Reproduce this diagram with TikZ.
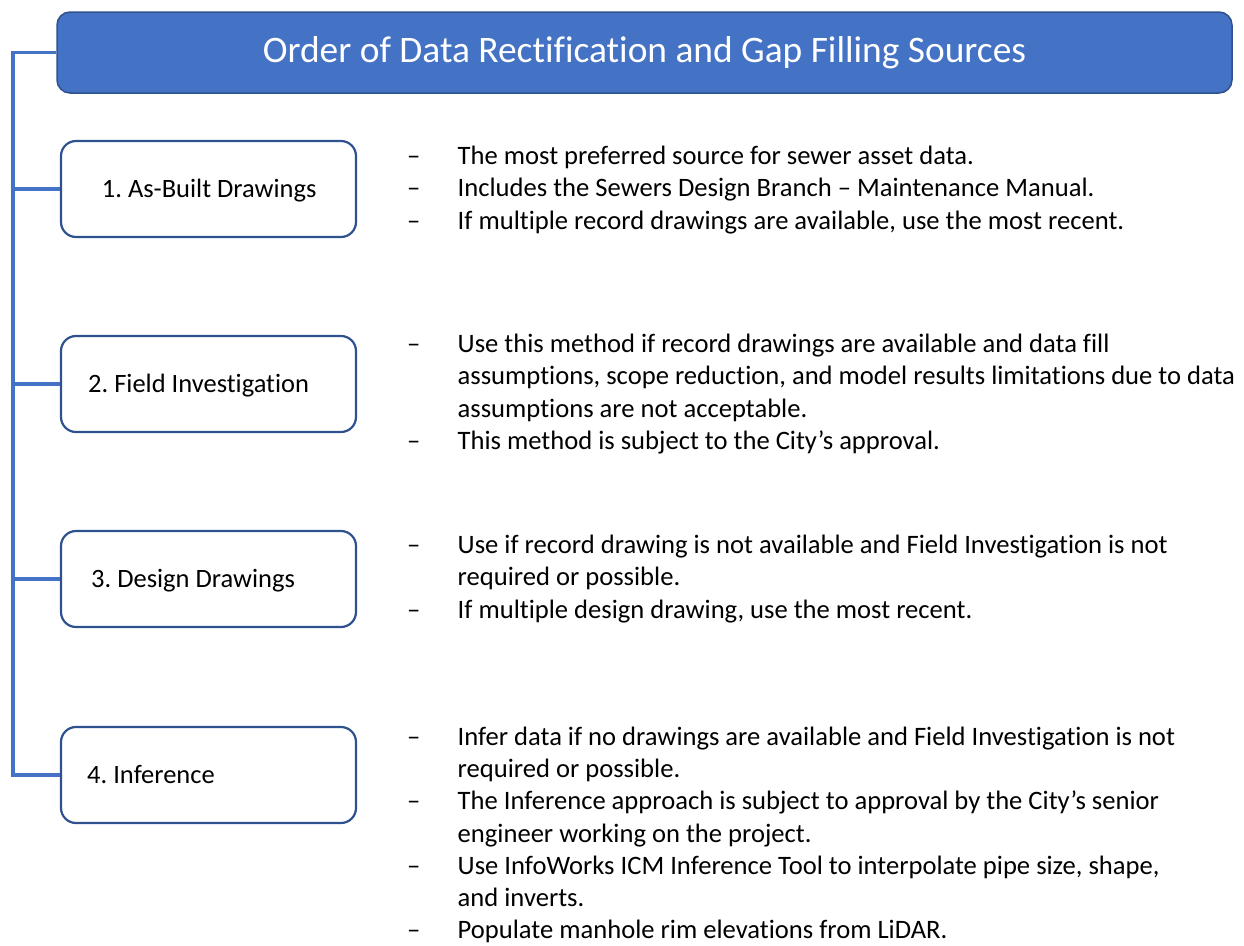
\documentclass[tikz,border=0pt]{standalone}
\usepackage{fontspec}
\setmainfont[Ligatures=NoCommon]{Carlito}
\definecolor{accent}{HTML}{4472C4}
\definecolor{edge}{HTML}{2F528F}
\tikzset{
  x=1pt, y=-1pt,
  titlebox/.style={draw=edge, line width=1.5pt, fill=accent, rounded corners=13pt,
    minimum width=1175pt, minimum height=81pt, inner sep=0pt, text=white,
    font=\fontsize{37.4}{44}\selectfont},
  stagebox/.style={draw=edge, line width=2.2pt, fill=white, rounded corners=15pt,
    minimum width=295pt, minimum height=96pt, inner sep=0pt},
  conn/.style={draw=accent, line width=3.5pt},
  label/.style={anchor=base west, inner sep=0pt, font=\fontsize{26.5}{32.5}\selectfont},
  dashmark/.style={anchor=base west, inner sep=0pt, font=\fontsize{26.6}{32.5}\selectfont},
  item/.style={anchor=base west, inner sep=0pt, font=\fontsize{26.6}{32.5}\selectfont},
}
\newcommand{\itemtext}[1]{\parbox[t]{790pt}{\raggedright #1}}
\frenchspacing
\begin{document}
\begin{tikzpicture}
\useasboundingbox (0,0) rectangle (1244,945);

% heading bar
\node[titlebox] (title) at (644.5,52.5) {Order of Data Rectification and Gap Filling Sources};

% the four stages
\node[stagebox] (s1) at (208.5,189) {};
\node[stagebox] (s2) at (208.5,384) {};
\node[stagebox] (s3) at (208.5,579) {};
\node[stagebox] (s4) at (208.5,775) {};

\node[label] (l1) at (101.7,197.5) {1. As-Built Drawings};
\node[label] (l2) at (88,392.5) {2. Field Investigation};
\node[label] (l3) at (91,587.5) {3. Design Drawings};
\node[label] (l4) at (87,783.5) {4. Inference};

% spine joining the heading to each stage
\coordinate (spineTop) at (13,52.5);
\coordinate (spineBot) at (13,775);
\draw[conn] (title.west) -- (spineTop) -- (spineBot) -- (s4.west);
\draw[conn] (s1.west) -- (s1.west -| spineTop);
\draw[conn] (s2.west) -- (s2.west -| spineTop);
\draw[conn] (s3.west) -- (s3.west -| spineTop);

% notes for stage 1
\node[dashmark] (d11) at (407,164) {–};
\node[item] (t11) at (457.5,164) {\itemtext{The most preferred source for sewer asset data.}};
\node[dashmark] (d12) at (407,196.5) {–};
\node[item] (t12) at (457.5,196.5) {\itemtext{Includes the Sewers Design Branch – Maintenance Manual.}};
\node[dashmark] (d13) at (407,229) {–};
\node[item] (t13) at (457.5,229) {\itemtext{If multiple record drawings are available, use the most recent.}};

% notes for stage 2
\node[dashmark] (d21) at (407,352) {–};
\node[item] (t21) at (457.5,352) {\itemtext{Use this method if record drawings are available and data fill\\assumptions, scope reduction, and model results limitations due to data\\assumptions are not acceptable.}};
\node[dashmark] (d22) at (407,449.5) {–};
\node[item] (t22) at (457.5,449.5) {\itemtext{This method is subject to the City’s approval.}};

% notes for stage 3
\node[dashmark] (d31) at (407,553) {–};
\node[item] (t31) at (457.5,553) {\itemtext{Use if record drawing is not available and Field Investigation is not\\required or possible.}};
\node[dashmark] (d32) at (407,618) {–};
\node[item] (t32) at (457.5,618) {\itemtext{If multiple design drawing, use the most recent.}};

% notes for stage 4
\node[dashmark] (d41) at (407,745) {–};
\node[item] (t41) at (457.5,745) {\itemtext{Infer data if no drawings are available and Field Investigation is not\\required or possible.}};
\node[dashmark] (d42) at (407,809.5) {–};
\node[item] (t42) at (457.5,809.5) {\itemtext{The Inference approach is subject to approval by the City’s senior\\engineer working on the project.}};
\node[dashmark] (d43) at (407,874) {–};
\node[item] (t43) at (457.5,874) {\itemtext{Use InfoWorks ICM Inference Tool to interpolate pipe size, shape,\\and inverts.}};
\node[dashmark] (d44) at (407,938.5) {–};
\node[item] (t44) at (457.5,938.5) {\itemtext{Populate manhole rim elevations from LiDAR.}};
\end{tikzpicture}
\end{document}
